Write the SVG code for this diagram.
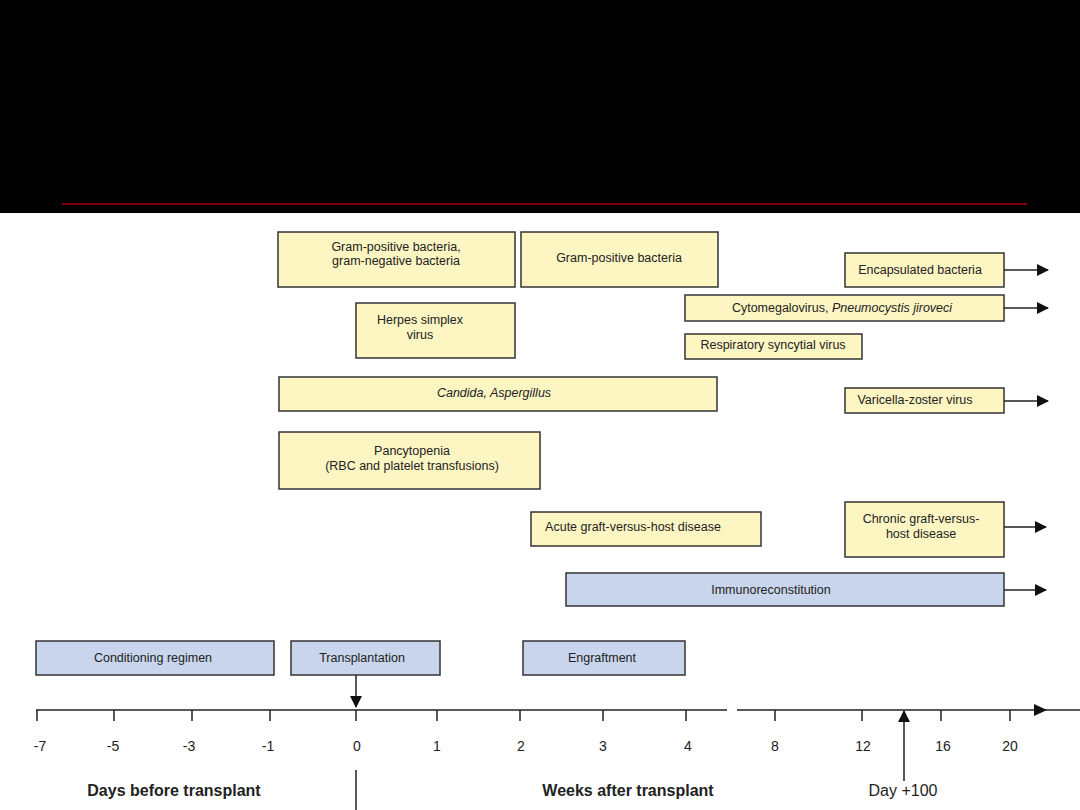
<svg xmlns="http://www.w3.org/2000/svg" width="1080" height="810" viewBox="0 0 1080 810">
<style>
.y{fill:#fdf6c3;stroke:#333;stroke-width:1.5}
.b{fill:#c9d5ec;stroke:#333;stroke-width:1.5}
.t{font-family:"Liberation Sans",Arial,sans-serif;font-size:12.5px;fill:#222;text-anchor:middle}
.n{font-family:"Liberation Sans",Arial,sans-serif;font-size:14px;fill:#222;text-anchor:middle}
.l{font-family:"Liberation Sans",Arial,sans-serif;font-size:16px;fill:#222;text-anchor:middle}
.c{stroke:#222;stroke-width:1.5;fill:none}
</style>
<defs>
<marker id="ah" markerWidth="12" markerHeight="12" refX="11" refY="6" orient="auto" markerUnits="userSpaceOnUse" viewBox="0 0 12 12">
<path d="M0,0 L12,6 L0,12 Z" fill="#111"/>
</marker>
<marker id="ah2" markerWidth="12" markerHeight="12" refX="11" refY="6" orient="auto" markerUnits="userSpaceOnUse" viewBox="0 0 12 12">
<path d="M0,0 L12,6 L0,12 Z" fill="#111"/>
</marker>
</defs>
<rect x="0" y="0" width="1080" height="213" fill="#000"/>
<line x1="62" y1="204" x2="1027" y2="204" stroke="#b00000" stroke-width="1.5"/>
<rect x="0" y="213" width="1080" height="597" fill="#fff"/>

<g id="gram-pos-neg"><rect class="y" x="278" y="232" width="237" height="55"/><text class="t" x="396" y="251">Gram-positive bacteria,</text><text class="t" x="396" y="265">gram-negative bacteria</text></g>
<g id="gram-pos"><rect class="y" x="521" y="232" width="197" height="55"/><text class="t" x="619" y="262">Gram-positive bacteria</text></g>
<g id="encapsulated"><rect class="y" x="845" y="253" width="159" height="34"/><text class="t" x="920" y="274">Encapsulated bacteria</text></g>
<g id="herpes"><rect class="y" x="356" y="303" width="159" height="55"/><text class="t" x="420" y="324">Herpes simplex</text><text class="t" x="420" y="339">virus</text></g>
<g id="cmv"><rect class="y" x="685" y="295" width="319" height="26"/><text class="t" x="842" y="312">Cytomegalovirus, <tspan font-style="italic">Pneumocystis jiroveci</tspan></text></g>
<g id="rsv"><rect class="y" x="685" y="334" width="177" height="25"/><text class="t" x="773" y="349">Respiratory syncytial virus</text></g>
<g id="candida"><rect class="y" x="279" y="377" width="438" height="34"/><text class="t" x="494" y="397" font-style="italic">Candida, Aspergillus</text></g>
<g id="vzv"><rect class="y" x="845" y="388" width="159" height="25"/><text class="t" x="915" y="404">Varicella-zoster virus</text></g>
<g id="pancytopenia"><rect class="y" x="279" y="432" width="261" height="57"/><text class="t" x="412" y="455">Pancytopenia</text><text class="t" x="412" y="470">(RBC and platelet transfusions)</text></g>
<g id="acute-gvhd"><rect class="y" x="531" y="512" width="230" height="34"/><text class="t" x="633" y="531">Acute graft-versus-host disease</text></g>
<g id="chronic-gvhd"><rect class="y" x="845" y="502" width="159" height="55"/><text class="t" x="921" y="523">Chronic graft-versus-</text><text class="t" x="921" y="538">host disease</text></g>
<g id="immuno"><rect class="b" x="566" y="573" width="438" height="33"/><text class="t" x="771" y="594">Immunoreconstitution</text></g>
<g id="conditioning"><rect class="b" x="36" y="641" width="238" height="34"/><text class="t" x="153" y="662">Conditioning regimen</text></g>
<g id="transplantation"><rect class="b" x="291" y="641" width="149" height="34"/><text class="t" x="362" y="662">Transplantation</text></g>
<g id="engraftment"><rect class="b" x="523" y="641" width="162" height="34"/><text class="t" x="602" y="662">Engraftment</text></g>

<g id="connectors">
<line class="c" x1="1004" y1="270" x2="1048" y2="270" marker-end="url(#ah)"/>
<line class="c" x1="1004" y1="308" x2="1048" y2="308" marker-end="url(#ah)"/>
<line class="c" x1="1004" y1="401" x2="1048" y2="401" marker-end="url(#ah)"/>
<line class="c" x1="1004" y1="527" x2="1046" y2="527" marker-end="url(#ah)"/>
<line class="c" x1="1004" y1="590" x2="1046" y2="590" marker-end="url(#ah)"/>
<line class="c" x1="356" y1="675" x2="356" y2="707" marker-end="url(#ah2)"/>
<line class="c" x1="904" y1="781" x2="904" y2="711" marker-end="url(#ah2)"/>
<line class="c" x1="356" y1="770" x2="356" y2="810"/>
</g>

<g id="axis">
<line class="c" x1="36" y1="710" x2="727" y2="710"/>
<line class="c" x1="737" y1="710" x2="1080" y2="710"/>
<path d="M1034,704 L1047,710 L1034,716 Z" fill="#111"/>
<path class="c" d="M37,710V721M114,710V721M192,710V721M270,710V721M356,710V721M437,710V721M520,710V721M603,710V721M686,710V721M775,710V721M862,710V721M941,710V721M1010,710V721"/>
<text class="n" x="40" y="751">-7</text>
<text class="n" x="113" y="751">-5</text>
<text class="n" x="189" y="751">-3</text>
<text class="n" x="268" y="751">-1</text>
<text class="n" x="357" y="751">0</text>
<text class="n" x="437" y="751">1</text>
<text class="n" x="521" y="751">2</text>
<text class="n" x="603" y="751">3</text>
<text class="n" x="688" y="751">4</text>
<text class="n" x="775" y="751">8</text>
<text class="n" x="863" y="751">12</text>
<text class="n" x="943" y="751">16</text>
<text class="n" x="1010" y="751">20</text>
<text class="l" x="174" y="796" font-weight="bold">Days before transplant</text>
<text class="l" x="628" y="796" font-weight="bold">Weeks after transplant</text>
<text class="l" x="903" y="796">Day +100</text>
</g>
</svg>
